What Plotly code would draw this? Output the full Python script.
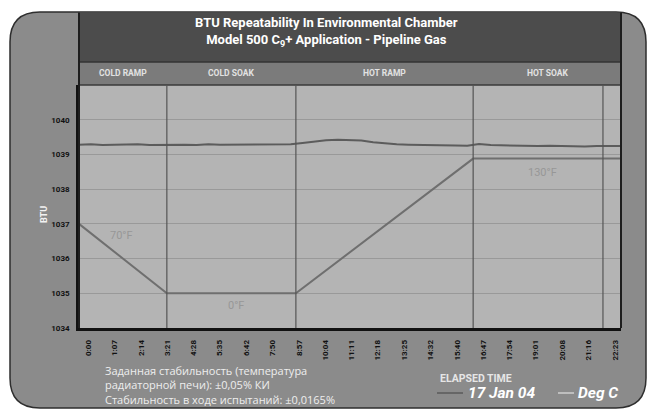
import plotly.graph_objects as go

# ---------------- data ----------------
tick_labels = ["0:00", "1:07", "2:14", "3:21", "4:28", "5:35", "6:42", "7:50", "8:57", "10:04",
               "11:11", "12:18", "13:25", "14:32", "15:40", "16:47", "17:54", "19:01", "20:08",
               "21:16", "22:23"]
y_ticks = [1034, 1035, 1036, 1037, 1038, 1039, 1040]

# BTU trace (elapsed minutes, BTU)
btu_time = [-24, 6, 36, 66, 96, 126, 156, 186, 216, 246, 276, 306, 336, 366, 396, 426, 456, 486,
            516, 546, 576, 606, 636, 666, 696, 726, 756, 786, 816, 846, 876, 906, 936, 966, 996,
            1026, 1056, 1086, 1116, 1146, 1176, 1206, 1236, 1266, 1296, 1326, 1356]
btu_values = [1039.28, 1039.29, 1039.27, 1039.28, 1039.28, 1039.29, 1039.27, 1039.28, 1039.29,
              1039.28, 1039.27, 1039.29, 1039.28, 1039.28, 1039.29, 1039.27, 1039.28, 1039.29,
              1039.29, 1039.33, 1039.38, 1039.41, 1039.42, 1039.42, 1039.40, 1039.35, 1039.31,
              1039.29, 1039.28, 1039.28, 1039.27, 1039.28, 1039.26, 1039.25, 1039.30, 1039.27,
              1039.26, 1039.25, 1039.26, 1039.24, 1039.25, 1039.24, 1039.25, 1039.23, 1039.24,
              1039.23, 1039.24]

# chamber temperature trace (drawn on the BTU scale as in the original)
temp_time = [-24, 200, 529, 981, 1358]
temp_values = [1037.0, 1035.0, 1035.0, 1038.88, 1038.88]
temp_labels = ["70°F", "0°F", "130°F"]
temp_label_time = [85, 376, 1157]
temp_label_y = [1036.67, 1034.66, 1038.48]

phase_names = ["COLD RAMP", "COLD SOAK", "HOT RAMP", "HOT SOAK"]
phase_bounds = [-24, 200, 529, 981, 1358]
end_marker = 1312

title_lines = ["BTU Repeatability In Environmental Chamber",
               "Model 500 C<sub>9</sub>+ Application - Pipeline Gas"]
note_lines = ["Заданная стабильность (температура",
              "радиаторной печи): ±0,05% КИ",
              "Стабильность в ходе испытаний: ±0,0165%"]


def to_min(s):
    h, m = s.split(":")
    return int(h) * 60 + int(m)


tick_vals = [to_min(s) for s in tick_labels]

# ---------------- geometry helpers ----------------
W, H = 649, 410
L, R, T, B = 79, 621, 85, 328   # plot area in pixels


def px(x):
    return (x - L) / (R - L)


def py(y):
    return (B - y) / (B - T)


FONT = "Roboto"

fig = go.Figure()
fig.add_trace(go.Scatter(x=temp_time, y=temp_values, mode="lines",
                         line=dict(color="#6f6f6f", width=2), showlegend=False, hoverinfo="skip"))
fig.add_trace(go.Scatter(x=btu_time, y=btu_values, mode="lines",
                         line=dict(color="#5c5c5c", width=2), showlegend=False))

shapes = []
# rounded outer panel
X0, X1, Y0, Y1 = px(10), px(646), py(408), py(12)
rx, ry = 30 / (R - L), 30 / (B - T)
path = (f"M {X0+rx},{Y1} L {X1-rx},{Y1} Q {X1},{Y1} {X1},{Y1-ry} L {X1},{Y0+ry} "
        f"Q {X1},{Y0} {X1-rx},{Y0} L {X0+rx},{Y0} Q {X0},{Y0} {X0},{Y0+ry} "
        f"L {X0},{Y1-ry} Q {X0},{Y1} {X0+rx},{Y1} Z")
shapes.append(dict(type="path", path=path, xref="paper", yref="paper",
                   fillcolor="#8b8b8b", line=dict(color="#2e2e2e", width=1.5), layer="below"))
# title band
shapes.append(dict(type="rect", xref="paper", yref="paper", x0=0, x1=1, y0=py(62), y1=py(12.5),
                   fillcolor="#4c4c4c", line=dict(width=0), layer="below"))
# phase band
shapes.append(dict(type="rect", xref="paper", yref="paper", x0=0, x1=1, y0=1, y1=py(62),
                   fillcolor="#7b7b7b", line=dict(width=0), layer="below"))
# plot area
shapes.append(dict(type="rect", xref="paper", yref="paper", x0=0, x1=1, y0=0, y1=1,
                   fillcolor="#b4b4b4", line=dict(width=0), layer="below"))
# band separators and frame lines
for yy, c, w in [(62, "#333333", 1.5), (85, "#3a3a3a", 1.5)]:
    shapes.append(dict(type="line", xref="paper", yref="paper", x0=0, x1=1, y0=py(yy), y1=py(yy),
                       line=dict(color=c, width=w)))
for xx in [L, R]:
    shapes.append(dict(type="line", xref="paper", yref="paper", x0=px(xx), x1=px(xx),
                       y0=0, y1=py(12.5), line=dict(color="#1e1e1e", width=2)))
# phase dividers
for xb in phase_bounds[1:-1] + [end_marker]:
    shapes.append(dict(type="line", xref="x", yref="paper", x0=xb, x1=xb, y0=0, y1=1,
                       line=dict(color="#555555", width=1.2)))
# legend samples
shapes.append(dict(type="line", xref="paper", yref="paper", x0=px(437), x1=px(463),
                   y0=py(393), y1=py(393), line=dict(color="#5a5a5a", width=1.5)))
shapes.append(dict(type="line", xref="paper", yref="paper", x0=px(558), x1=px(574),
                   y0=py(393), y1=py(393), line=dict(color="#cfcfcf", width=1.5)))

ann = []
ann.append(dict(text="<b>" + "<br>".join(title_lines) + "</b>", xref="paper", yref="paper",
                x=px(326), y=py(32), xanchor="center", yanchor="middle", showarrow=False,
                font=dict(family=FONT, size=13, color="#ffffff")))
for i, name in enumerate(phase_names):
    cx = (phase_bounds[i] + phase_bounds[i + 1]) / 2
    ann.append(dict(text="<b>" + name + "</b>", xref="x", yref="paper", x=cx, y=py(73.5),
                    xanchor="center", yanchor="middle", showarrow=False,
                    font=dict(family=FONT, size=8.5, color="#e2e2e2")))
for t, x, y in zip(temp_labels, temp_label_time, temp_label_y):
    ann.append(dict(text=t, x=x, y=y, xref="x", yref="y", showarrow=False,
                    font=dict(family=FONT, size=11, color="#979797")))
ann.append(dict(text="<b>BTU</b>", xref="paper", yref="paper", x=px(37), y=py(215),
                textangle=-90, showarrow=False, font=dict(family=FONT, size=9, color="#f2f2f2")))
ann.append(dict(text="<br>".join(note_lines), xref="paper", yref="paper", x=px(103), y=py(384.5),
                xanchor="left", yanchor="middle", align="left", showarrow=False,
                font=dict(family="Open Sans", size=11, color="#eeeeee")))
ann.append(dict(text="<b>ELAPSED TIME</b>", xref="paper", yref="paper", x=px(438), y=py(378),
                xanchor="left", yanchor="middle", showarrow=False,
                font=dict(family=FONT, size=10.5, color="#e6e6e6")))
ann.append(dict(text="<b><i>17 Jan 04</i></b>", xref="paper", yref="paper", x=px(466), y=py(393),
                xanchor="left", yanchor="middle", showarrow=False,
                font=dict(family=FONT, size=15.5, color="#ffffff")))
ann.append(dict(text="<b><i>Deg C</i></b>", xref="paper", yref="paper", x=px(576), y=py(393),
                xanchor="left", yanchor="middle", showarrow=False,
                font=dict(family=FONT, size=15.5, color="#ffffff")))

fig.update_layout(
    width=W, height=H,
    margin=dict(l=L, r=W - R, t=T, b=H - B, pad=0),
    paper_bgcolor="#ffffff", plot_bgcolor="rgba(0,0,0,0)",
    shapes=shapes, annotations=ann, showlegend=False,
    font=dict(family=FONT),
)
fig.update_xaxes(range=[-24, 1358], tickvals=tick_vals, ticktext=tick_labels, tickangle=-90,
                 tickfont=dict(family=FONT, size=8, color="#111111", weight="bold"),
                 showgrid=False, zeroline=False, showline=True, linecolor="#111111", linewidth=2.5,
                 ticks="", ticklabelstandoff=6)
fig.update_yaxes(range=[1034, 1041], tickvals=y_ticks, ticktext=[str(v) for v in y_ticks],
                 tickfont=dict(family=FONT, size=8, color="#111111", weight="bold"),
                 showgrid=True, gridcolor="#999999", gridwidth=1, zeroline=False,
                 showline=True, linecolor="#111111", linewidth=2.5, ticks="", ticklabelstandoff=5)

fig.write_html("out.html", config={"displayModeBar": False},
               post_script="document.body.style.margin='0';document.body.style.overflow='hidden';")
